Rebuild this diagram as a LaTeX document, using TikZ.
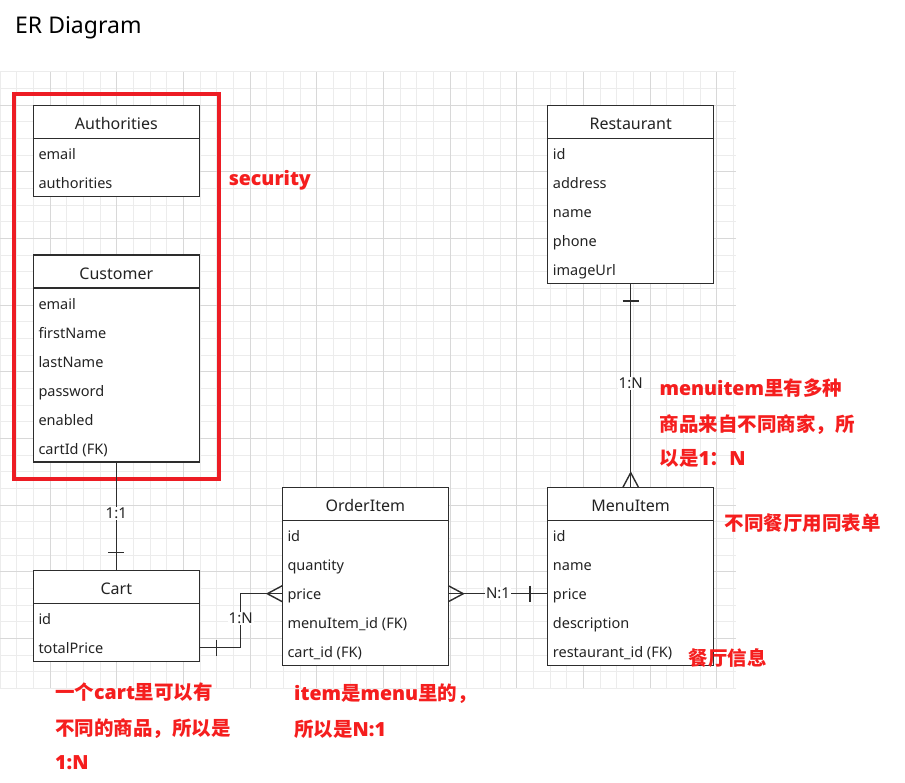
\documentclass[tikz,border=0pt]{standalone}
\usepackage{fontspec}
\setmainfont{Noto Sans}
\newfontfamily\cjk{Noto Sans CJK SC}
\IfFontExistsTF{Open Sans Bold}
  {\newfontfamily\latb{Open Sans Bold}}
  {\newfontfamily\latb{Noto Sans}[FakeBold=2.5]}
\usetikzlibrary{positioning,calc}
\definecolor{erline}{RGB}{45,45,45}
\definecolor{ertext}{RGB}{35,35,35}
\definecolor{ergrid}{RGB}{236,236,236}
\definecolor{ergridmaj}{RGB}{216,216,216}
\definecolor{secred}{RGB}{237,28,36}
\definecolor{notered}{RGB}{245,30,30}
\newcommand\lat[1]{{\latb #1}}
\tikzset{
  ent/.style={draw=erline, line width=1.4pt, fill=white, minimum width=166,
    inner sep=0pt, outer sep=0pt},
  enthead/.style={ent, minimum height=33, anchor=north west, text=ertext,
    text height=15.5, text depth=0, font=\fontsize{16}{18}\selectfont},
  fld/.style={anchor=west, inner sep=0pt, text=ertext, text height=12.5,
    text depth=0, font=\fontsize{14.5}{16}\selectfont},
  rel/.style={draw=erline, line width=1.4pt},
  card/.style={fill=white, inner sep=1.2pt, text=ertext, text height=10.5,
    text depth=0, font=\fontsize{15}{17}\selectfont},
  note/.style={anchor=west, inner sep=0pt, text=notered, text height=14.6,
    text depth=0, font=\cjk\bfseries\fontsize{19.5}{22}\selectfont},
  secbox/.style={draw=secred, line width=4pt},
  gridln/.style={draw=ergrid, line width=1pt},
  gridmaj/.style={draw=ergridmaj, line width=1pt},
  pics/onebar/.style={code={\draw[rel] (0,-8) -- (0,8);}},
  pics/crowfoot/.style={code={\draw[rel] (0,-8) -- (15,0) -- (0,8);}}
}
% entity: name, title, x, y, body height, fields
\newcommand\erent[6]{%
  \node[enthead] (#1) at (#3,#4) {#2};
  \node[ent, minimum height=#5, below=0pt of #1] (#1-body) {};
  \foreach \fldtext [count=\i] in {#6}
    \node[fld] (#1-\i) at ($(#1-body.north west)+(5,15+29*\i-29)$) {\fldtext};
}
\begin{document}
\begin{tikzpicture}[x=1pt, y=-1pt]
  \useasboundingbox (0,0) rectangle (905,783);
  % grid
  \foreach \i in {0,...,44} \draw[gridln] (16.667*\i,71.7) -- (16.667*\i,688.4);
  \foreach \j in {0,...,37} \draw[gridln] (0,71.7+16.667*\j) -- (736,71.7+16.667*\j);
  \foreach \i in {3,7,...,43} \draw[gridmaj] (16.667*\i,71.7) -- (16.667*\i,688.4);
  \foreach \j in {2,6,...,34} \draw[gridmaj] (0,71.7+16.667*\j) -- (736,71.7+16.667*\j);

  \node[anchor=west, inner sep=0pt, text height=16.5, text depth=0,
    font=\fontsize{23}{26}\selectfont] (title) at (15,25) {ER Diagram};

  \erent{auth}{Authorities}{33.3}{105.7}{58}{email,authorities}
  \erent{cust}{Customer}{33.3}{255}{174}{email,firstName,lastName,password,enabled,cartId (FK)}
  \erent{cart}{Cart}{33.3}{570.7}{58}{id,totalPrice}
  \erent{order}{OrderItem}{282.3}{487.7}{145}{id,quantity,price,menuItem\_id (FK),cart\_id (FK)}
  \erent{menu}{MenuItem}{547.7}{487.7}{145}{id,name,price,description,restaurant\_id (FK)}
  \erent{rest}{Restaurant}{547.7}{105.3}{145}{id,address,name,phone,imageUrl}

  \draw[secbox] (14,94) rectangle (218.7,479);

  % relations
  \draw[rel] (cust-body.south) -- node[card, pos=.47] (lcc) {1:1} (cart.north);
  \draw[rel] (cart-2 -| cart-body.east) -- ++(41.4,0)
    |- node[card, pos=.27] (lco) {1:N} (order-3 -| order-body.west);
  \draw[rel] (order-3 -| order-body.east) -- node[card] (lom) {N:1} (menu-3 -| menu-body.west);
  \draw[rel] (rest-body.south) -- node[card, pos=.49] (lrm) {1:N} (menu.north);

  \pic[rotate=90] at ($(cart.north)+(0,-18)$) {onebar};
  \pic at ($(cart-2 -| cart-body.east)+(17.4,0)$) {onebar};
  \pic at ($(menu-3 -| menu-body.west)+(-17.7,0)$) {onebar};
  \pic[rotate=90] at ($(rest-body.south)+(0,17.7)$) {onebar};
  \pic[rotate=180] at (order-3 -| order-body.west) {crowfoot};
  \pic at (order-3 -| order-body.east) {crowfoot};
  \pic[rotate=90] at (menu.north) {crowfoot};

  % notes
  \node[note] (nsec) at (228.3,178.3) {\lat{security}};
  \node[note] (nmenu1) at (659.3,388.3) {\lat{menuitem}里有多种};
  \node[note] (nmenu2) at (659.3,424) {商品来自不同商家，所};
  \node[note] (nmenu3) at (659.3,457.7) {以是\lat{1}：\lat{N}};
  \node[note] (nform) at (724.3,522.7) {不同餐厅用同表单};
  \node[note] (ninfo) at (688.3,657.7) {餐厅信息};
  \node[note] (ncart1) at (55,692.3) {一个\lat{cart}里可以有};
  \node[note] (ncart2) at (55,727.7) {不同的商品，所以是};
  \node[note] (ncart3) at (55,761.7) {\lat{1:N}};
  \node[note] (nitem1) at (294,693.3) {\lat{item}是\lat{menu}里的，};
  \node[note] (nitem2) at (294,728.7) {所以是\lat{N:1}};
\end{tikzpicture}
\end{document}
